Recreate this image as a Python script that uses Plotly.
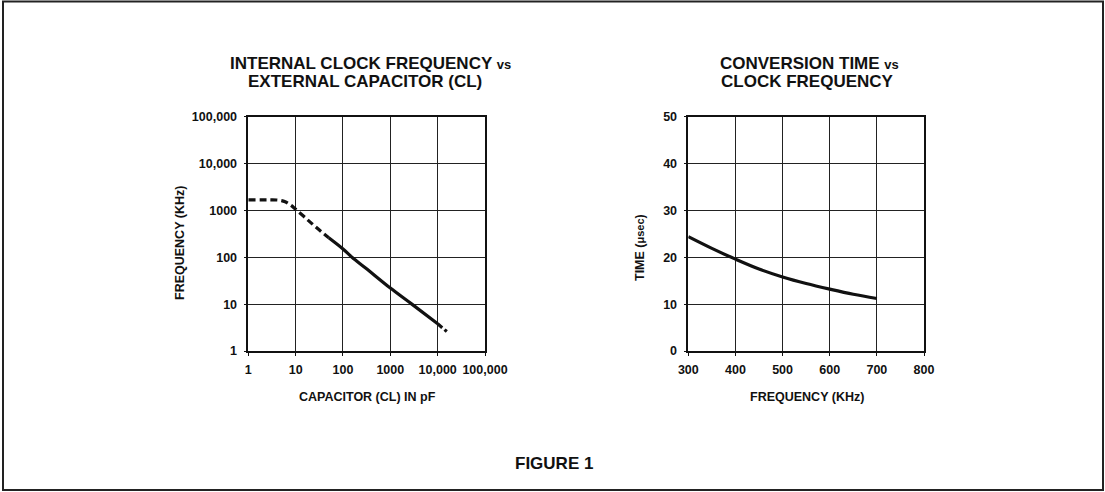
import plotly.graph_objects as go

W, H = 1105, 492

# ---------------- data ----------------
# Left chart: internal clock frequency vs external capacitor (log-log)
cap_dash_a = [1, 2, 3, 4, 5, 6, 7, 8, 10, 15, 20, 30, 50]
freq_dash_a = [1680, 1680, 1680, 1670, 1620, 1530, 1400, 1280, 1060, 740, 570, 400, 260]
cap_solid = [50, 100, 155, 300, 1000, 2850, 10000]
freq_solid = [260, 150, 100, 59, 22, 10, 3.8]
cap_dash_b = [10000, 15600]
freq_dash_b = [3.8, 2.6]

log_tickvals = [1, 10, 100, 1000, 10000, 100000]
log_ticktext = ["1", "10", "100", "1000", "10,000", "100,000"]

# Right chart: conversion time vs clock frequency
clock_khz = [300, 350, 400, 450, 500, 550, 600, 650, 700]
time_us = [24.4, 21.9, 19.6, 17.5, 15.8, 14.4, 13.2, 12.1, 11.2]

lin_xticks = [300, 400, 500, 600, 700, 800]
lin_yticks = [0, 10, 20, 30, 40, 50]

# ---------------- helpers ----------------
FONT = "Liberation Sans, Arial, Helvetica, sans-serif"
INK = "#111111"


def px_x(x):
    return x / W


def px_y(y):
    return 1 - y / H


fig = go.Figure()

line_style = dict(color=INK, width=3.2)
fig.add_trace(go.Scatter(x=cap_dash_a, y=freq_dash_a, mode="lines",
                         line=dict(line_style, dash="7px,4px", shape="spline"),
                         xaxis="x", yaxis="y", showlegend=False, hoverinfo="skip"))
fig.add_trace(go.Scatter(x=cap_solid, y=freq_solid, mode="lines",
                         line=dict(line_style, shape="spline"),
                         xaxis="x", yaxis="y", showlegend=False, hoverinfo="skip"))
fig.add_trace(go.Scatter(x=cap_dash_b, y=freq_dash_b, mode="lines",
                         line=dict(line_style, dash="6px,3px"),
                         xaxis="x", yaxis="y", showlegend=False, hoverinfo="skip"))
fig.add_trace(go.Scatter(x=clock_khz, y=time_us, mode="lines",
                         line=dict(line_style, shape="spline"),
                         xaxis="x2", yaxis="y2", showlegend=False, hoverinfo="skip"))

tickfont = dict(family=FONT, size=12.5, color=INK, weight="bold")
common_axis = dict(
    showline=True, mirror=True, linecolor=INK, linewidth=1.5,
    showgrid=True, gridcolor="#222222", gridwidth=1,
    zeroline=False, ticks="outside", ticklen=3, tickcolor=INK,
    tickfont=tickfont, fixedrange=True,
)

y_dom = [px_y(351), px_y(116.7)]

fig.update_layout(
    autosize=True,
    margin=dict(l=0, r=0, t=0, b=0, autoexpand=False),
    paper_bgcolor="white", plot_bgcolor="white",
    xaxis=dict(common_axis, type="log", range=[0, 5], domain=[px_x(248.3), px_x(485)],
               tickvals=log_tickvals, ticktext=log_ticktext, anchor="y",
               ticklabelstandoff=3),
    yaxis=dict(common_axis, type="log", range=[0, 5], domain=y_dom,
               tickvals=log_tickvals, ticktext=log_ticktext, anchor="x",
               ticklabelstandoff=4),
    xaxis2=dict(common_axis, range=[300, 800], domain=[px_x(688.3), px_x(924)],
                tickvals=lin_xticks, anchor="y2", ticklabelstandoff=3),
    yaxis2=dict(common_axis, range=[0, 50], domain=y_dom,
                tickvals=lin_yticks, anchor="x2", ticklabelstandoff=4),
)

title_font = dict(family=FONT, size=17, color=INK, weight="bold")
label_font = dict(family=FONT, size=12.5, color=INK, weight="bold")


def note(text, x, y, font, angle=0):
    fig.add_annotation(text=text, x=px_x(x), y=px_y(y), xref="paper", yref="paper",
                       xanchor="center", yanchor="middle", showarrow=False,
                       font=font, textangle=angle)


vs = "<span style='font-size:13px'>vs</span>"
note("INTERNAL CLOCK FREQUENCY " + vs, 371, 63, title_font)
note("EXTERNAL CAPACITOR (CL)", 365, 81, title_font)
note("CONVERSION TIME " + vs, 809, 63, title_font)
note("CLOCK FREQUENCY", 807, 81, title_font)

note("CAPACITOR (CL) IN pF", 367, 397, label_font)
note("FREQUENCY (KHz)", 807, 397, label_font)
note("FREQUENCY (KHz)", 180, 243, label_font, angle=-90)
note("TIME (<span style='font-size:11px'>μsec</span>)", 640, 248, label_font, angle=-90)

note("FIGURE 1", 554, 463, title_font)

# outer frame of the figure
fig.add_shape(type="rect", xref="paper", yref="paper",
              x0=px_x(3), x1=px_x(1103), y0=px_y(490), y1=px_y(1.5),
              line=dict(color="#222222", width=2), fillcolor="rgba(0,0,0,0)")

fig.write_html(
    "out.html",
    config={"displayModeBar": False, "responsive": True},
    default_width="100vw",
    default_height="100vh",
    post_script="document.body.style.margin='0';document.body.style.overflow='hidden';"
                "document.documentElement.style.overflow='hidden';",
)
